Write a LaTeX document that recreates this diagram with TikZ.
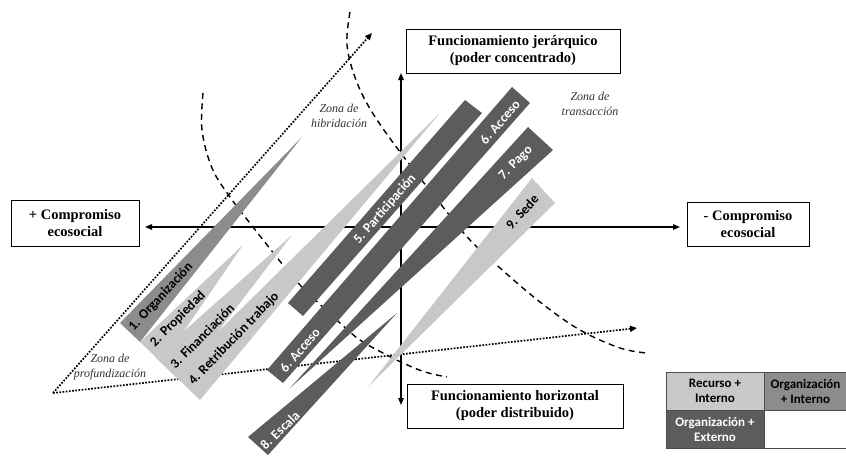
\documentclass[tikz,border=0pt]{standalone}
\usepackage{fontspec}
\setmainfont{Liberation Serif}
\newfontfamily\barfont{Carlito}
\usetikzlibrary{arrows.meta,positioning}

\definecolor{lightbar}{HTML}{C8C8C8}
\definecolor{midbar}{HTML}{8C8C8C}
\definecolor{darkbar}{HTML}{5C5C5C}

\tikzset{
  axisbox/.style={draw, line width=0.9pt, align=center, inner sep=2pt,
    font=\bfseries\fontsize{14.5}{17}\selectfont},
  axis/.style={line width=1.3pt, -{Triangle[length=7pt,width=5.5pt]}},
  zonepath/.style={line width=1.7pt, dash pattern=on 1.7pt off 1.5pt,
    -{Triangle[length=7pt,width=6pt]}},
  border/.style={line width=1.4pt, dash pattern=on 6pt off 4.5pt},
  zonetext/.style={align=center, text=black!80,
    font=\itshape\fontsize{12}{15}\selectfont},
  barlabel/.style={inner sep=0pt, font=\barfont\bfseries\fontsize{13.5}{15}\selectfont},
  legcell/.style={draw=black!70, line width=0.5pt, align=center, inner sep=0pt,
    minimum height=38pt, font=\barfont\bfseries\fontsize{13}{15}\selectfont}
}

\begin{document}
\begin{tikzpicture}[x=1pt, y=-1pt]
\useasboundingbox (0,0) rectangle (846,456);
\coordinate (origin) at (401,227);
\coordinate (axL) at (145,227);
\coordinate (axR) at (680,227);
\coordinate (axT) at (401,73);
\coordinate (axB) at (401,405);
\coordinate (prof) at (53,393);
\coordinate (hib) at (372,33);
\coordinate (tra) at (637,328);

\node[axisbox, minimum width=128pt, minimum height=46pt] (masEco) at (75,223) {+ Compromiso\\ecosocial};
\node[axisbox, minimum width=122pt, minimum height=44pt] (menosEco) at (748,224) {- Compromiso\\ecosocial};
\node[axisbox, minimum width=214pt, minimum height=44pt] (jerarq) at (513,51) {Funcionamiento jerárquico\\(poder concentrado)};
\node[axisbox, minimum width=216pt, minimum height=44pt] (horiz) at (515,406) {Funcionamiento horizontal\\(poder distribuido)};

\draw[axis] (origin) -- (axL);
\draw[axis] (origin) -- (axR);
\draw[axis] (origin) -- (axT);
\draw[axis] (origin) -- (axB);

\draw[zonepath] (prof) -- (hib);
\draw[zonepath] (prof) -- (tra);

\draw[border] plot[smooth, tension=0.6] coordinates {(350,12) (347,45) (356,80) (372,112) (400,152) (443,207) (470,240) (500,268) (540,302) (580,330) (620,348) (647,353)};
\draw[border] plot[smooth, tension=0.6] coordinates {(203,93) (202,130) (212,168) (230,197) (253,227) (283,265) (300,285) (340,323) (360,340) (383,353) (403,363) (425,372) (447,377)};

\fill[midbar] (120,323) -- (140,342) -- (302,137) -- cycle;
\fill[lightbar] (140,342) -- (162,363) -- (243,245) -- cycle;
\fill[lightbar] (155,357) -- (180,381) -- (292,235) -- cycle;
\fill[lightbar] (174,375) -- (200,400) -- (440,113) -- cycle;
\fill[darkbar] (288,303) -- (303,316) -- (482,113) -- (465,100) -- cycle;
\fill[darkbar] (267,370) -- (283,383) -- (530,103) -- (512,87) -- cycle;
\fill[darkbar] (290,388) -- (553,150) -- (528,127) -- cycle;
\fill[darkbar] (248,437) -- (268,455) -- (397,313) -- cycle;
\fill[lightbar] (368,387) -- (555,203) -- (532,178) -- cycle;

\node[barlabel, rotate=47] (lOrg) at (161,297) {1. Organización};
\node[barlabel, rotate=45] (lProp) at (178,319) {2. Propiedad};
\node[barlabel, rotate=45] (lFin) at (202,336) {3. Financiación};
\node[barlabel, rotate=46] (lRet) at (234,339) {4. Retribución trabajo};
\node[barlabel, text=white, rotate=49] (lPart) at (385,209) {5. Participación};
\node[barlabel, text=white, rotate=49] (lAccA) at (500,122) {6. Acceso};
\node[barlabel, text=white, rotate=49] (lAccB) at (300,350) {6. Acceso};
\node[barlabel, text=white, rotate=45] (lPago) at (516,163) {7. Pago};
\node[barlabel, text=white, rotate=44] (lEsc) at (280,430) {8. Escala};
\node[barlabel, rotate=48] (lSede) at (522,212) {9. Sede};

\node[zonetext] (zHib) at (339,116) {Zona de\\hibridación};
\node[zonetext] (zTra) at (590,104) {Zona de\\transacción};
\node[zonetext] (zProf) at (110,367) {Zona de\\profundización};

\node[legcell, fill=lightbar, minimum width=98pt] (legRI) at (715,391) {Recurso +\\Interno};
\node[legcell, fill=midbar, minimum width=82pt, right=0pt of legRI] (legOI) {Organización\\+ Interno};
\node[legcell, fill=darkbar, text=white, minimum width=98pt, below=0pt of legRI] (legOE) {Organización +\\Externo};
\node[legcell, minimum width=82pt, below=0pt of legOI] (legVac) {};
\end{tikzpicture}
\end{document}
